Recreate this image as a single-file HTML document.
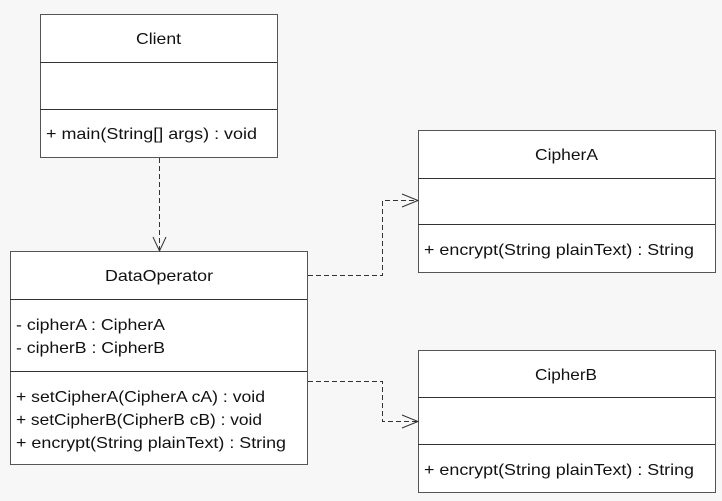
<!DOCTYPE html>
<html><head><meta charset="utf-8"><style>
html,body{margin:0;padding:0;background:#f7f7f7;}
svg{display:block;}
text{font-family:"Liberation Sans","Noto Sans CJK SC",sans-serif;font-size:16px;fill:#111;}
rect{fill:#fff;stroke:#555;stroke-width:1;}
line.d{stroke:#333;stroke-width:1;}
</style></head><body>
<svg width="722" height="501" xmlns="http://www.w3.org/2000/svg">
<rect x="40.5" y="14.5" width="237" height="143"/>
<line class="d" x1="40" y1="62.5" x2="277" y2="62.5"/>
<line class="d" x1="40" y1="109.5" x2="277" y2="109.5"/>
<text x="136" y="44" textLength="45" lengthAdjust="spacingAndGlyphs">Client</text>
<text x="46" y="139" textLength="211" lengthAdjust="spacingAndGlyphs">+ main(String[] args) : void</text>

<rect x="10.5" y="251.5" width="297" height="213"/>
<line class="d" x1="10" y1="299.5" x2="307" y2="299.5"/>
<line class="d" x1="10" y1="371.5" x2="307" y2="371.5"/>
<text x="105" y="281" textLength="108" lengthAdjust="spacingAndGlyphs">DataOperator</text>
<text x="16" y="330" textLength="149" lengthAdjust="spacingAndGlyphs">- cipherA : CipherA</text>
<text x="16" y="353" textLength="149" lengthAdjust="spacingAndGlyphs">- cipherB : CipherB</text>
<text x="16" y="402" textLength="249" lengthAdjust="spacingAndGlyphs">+ setCipherA(CipherA cA) : void</text>
<text x="16" y="425" textLength="246" lengthAdjust="spacingAndGlyphs">+ setCipherB(CipherB cB) : void</text>
<text x="16" y="448" textLength="270" lengthAdjust="spacingAndGlyphs">+ encrypt(String plainText) : String</text>

<rect x="418.5" y="130.5" width="297" height="142"/>
<line class="d" x1="418" y1="178.5" x2="715" y2="178.5"/>
<line class="d" x1="418" y1="224.5" x2="715" y2="224.5"/>
<text x="535" y="160" textLength="63" lengthAdjust="spacingAndGlyphs">CipherA</text>
<text x="424" y="255" textLength="270" lengthAdjust="spacingAndGlyphs">+ encrypt(String plainText) : String</text>

<rect x="418.5" y="350.5" width="297" height="142"/>
<line class="d" x1="418" y1="397.5" x2="715" y2="397.5"/>
<line class="d" x1="418" y1="444.5" x2="715" y2="444.5"/>
<text x="535" y="380" textLength="62" lengthAdjust="spacingAndGlyphs">CipherB</text>
<text x="424" y="475" textLength="270" lengthAdjust="spacingAndGlyphs">+ encrypt(String plainText) : String</text>

<g fill="none" stroke="#333" stroke-width="1" stroke-dasharray="5,3">
<path d="M159.5 158 V250"/>
<path d="M308 275.5 H382.5 V200.5 H417"/>
<path d="M308 381.5 H382.5 V421.5 H417"/>
</g>
<g fill="none" stroke="#333" stroke-width="1">
<path d="M153 237 L159.5 251 L166 237"/>
<path d="M402 194 L418 200.5 L402 207"/>
<path d="M402 415 L418 421.5 L402 428"/>
</g>
</svg>
</body></html>
